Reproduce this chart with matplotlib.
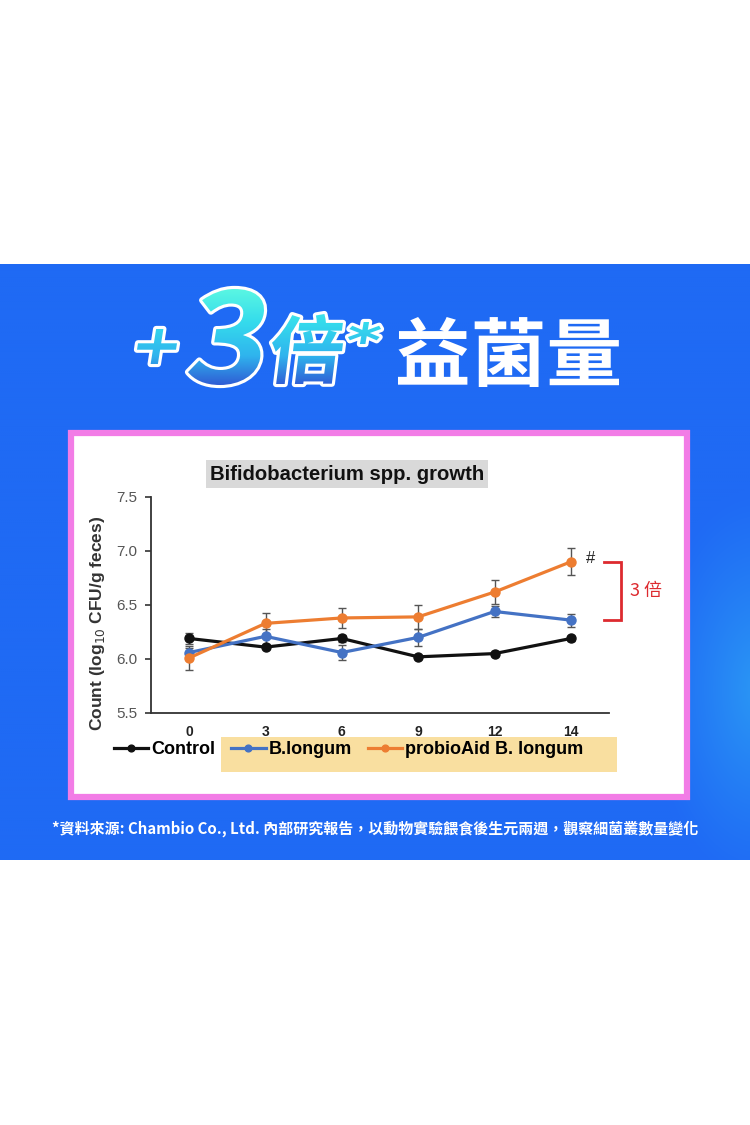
import numpy as np
import matplotlib
matplotlib.use('Agg')
import matplotlib.pyplot as plt
from matplotlib.patches import Rectangle, PathPatch
from matplotlib.path import Path
from matplotlib.textpath import TextPath
from matplotlib.font_manager import FontProperties
from matplotlib.transforms import Affine2D
from matplotlib.colors import LinearSegmentedColormap, to_rgb

# data
days = ['0', '3', '6', '9', '12', '14']
control = [6.19, 6.11, 6.19, 6.02, 6.05, 6.19]
control_err = [0.05, 0.02, 0.03, 0.01, 0.02, 0.02]
blongum = [6.06, 6.21, 6.06, 6.20, 6.44, 6.36]
blongum_err = [0.04, 0.07, 0.07, 0.075, 0.055, 0.06]
probio = [6.01, 6.33, 6.38, 6.39, 6.62, 6.90]
probio_err = [0.11, 0.10, 0.09, 0.11, 0.11, 0.125]
series_names = ['Control', 'B.longum', 'probioAid B. longum']
series_colors = ['#111111', '#4472c4', '#ed7d31']

W, H = 750, 1125
LATIN = 'Liberation Sans'
CJK = 'Noto Sans CJK TC'

fig = plt.figure(figsize=(W / 100, H / 100), dpi=100, facecolor='white')

# background layer in pixel coords
bg = fig.add_axes([0, 0, 1, 1], zorder=0)
bg.set_xlim(0, W)
bg.set_ylim(H, 0)
bg.axis('off')

# blue band with a soft glow on the right
band_top, band_bot = 264, 860
ny, nx = 300, 375
yy, xx = np.mgrid[0:ny, 0:nx]
px = xx / (nx - 1) * W
py = band_top + yy / (ny - 1) * (band_bot - band_top)
base = np.array(to_rgb('#1f6af4'))
glow = np.array(to_rgb('#34bdf6'))
d = np.sqrt(((px - 760) / 110) ** 2 + ((py - 690) / 200) ** 2)
a = np.clip(1 - d, 0, 1) ** 1.2 * 0.55
img = base[None, None, :] * (1 - a[..., None]) + glow[None, None, :] * a[..., None]
bg.imshow(img, extent=(0, W, band_bot, band_top), aspect='auto', zorder=0,
          interpolation='bilinear')
bg.set_xlim(0, W)
bg.set_ylim(H, 0)

# white panel with pink border
bg.add_patch(Rectangle((71, 433), 616, 364, facecolor='white', edgecolor='#f27ce6',
                       linewidth=4.5, zorder=1))
# tan legend band
bg.add_patch(Rectangle((221, 737), 396, 35, facecolor='#f9dfa0', edgecolor='none', zorder=2))


def fit_path(txt, box, prop, skew=0):
    p = TextPath((0, 0), txt, size=100, prop=prop)
    p = p.transformed(Affine2D().skew_deg(skew, 0))
    ext = p.get_extents()
    x0, y0, x1, y1 = box
    t = (Affine2D().translate(-ext.x0, -ext.y1)
         .scale((x1 - x0) / ext.width, -(y1 - y0) / ext.height)
         .translate(x0, y0))
    return p.transformed(t)


bold_cjk = FontProperties(family=CJK, weight='bold')
bold_dv = FontProperties(family='DejaVu Sans', weight='bold')
pieces = [fit_path('+', (137, 329, 177, 364), bold_dv, 8),
          fit_path('3', (188, 289, 264, 385), bold_cjk, 8),
          fit_path('倍', (272, 314, 343, 384), bold_cjk, 7),
          fit_path('*', (348, 322, 381, 344), bold_dv, 7)]
grad_path = Path.make_compound_path(*pieces)
bg.add_patch(PathPatch(grad_path, facecolor='white', edgecolor='white', linewidth=4.5,
                       zorder=3, joinstyle='round'))
clip = PathPatch(grad_path, facecolor='none', edgecolor='none', transform=bg.transData)
bg.add_patch(clip)
cmap = LinearSegmentedColormap.from_list('title', ['#5cf8e2', '#35dcec', '#2fb4ee', '#2f4fd0'])
grad = np.linspace(0, 1, 200)[:, None] * np.ones((1, 10))
gi = bg.imshow(grad, cmap=cmap, extent=(120, 390, 390, 287), aspect='auto', zorder=4)
gi.set_clip_path(clip)

bg.add_patch(PathPatch(fit_path('益菌量', (398, 317, 619, 387), bold_cjk),
                       facecolor='white', edgecolor='none', zorder=3))
bg.set_xlim(0, W)
bg.set_ylim(H, 0)

# chart title
bg.text(347, 474, 'Bifidobacterium spp. growth', ha='center', va='center',
        fontsize=14.6, fontweight='bold', family=LATIN, color='#111111', zorder=3,
        bbox=dict(boxstyle='square,pad=0.2', facecolor='#d9d9d9', edgecolor='none'))

# footnote
bg.text(375, 829, '*資料來源: Chambio Co., Ltd. 內部研究報告，以動物實驗餵食後生元兩週，觀察細菌叢數量變化',
        ha='center', va='center', fontsize=10.8, fontweight='bold', color='white',
        family=[CJK, 'DejaVu Sans'], zorder=3)

# the chart itself
ax = fig.add_axes([151 / W, 1 - 713 / H, (609 - 151) / W, (713 - 497) / H], zorder=2)
ax.patch.set_alpha(0)
x = np.arange(len(days))
for vals, errs, name, col in zip([control, blongum, probio],
                                 [control_err, blongum_err, probio_err],
                                 series_names, series_colors):
    ax.errorbar(x, vals, yerr=errs, fmt='none', ecolor='#555555', elinewidth=1.0,
                capsize=3, capthick=1.0, zorder=3)
    ax.plot(x, vals, color=col, lw=2.3, marker='o', ms=6.5, label=name, zorder=4)

ax.set_xlim(-0.5, 5.5)
ax.set_ylim(5.5, 7.5)
ax.set_xticks(x)
ax.set_xticklabels(days, fontsize=10, fontweight='bold', family=LATIN, color='#222222')
ax.set_yticks([5.5, 6.0, 6.5, 7.0, 7.5])
ax.set_yticklabels(['5.5', '6.0', '6.5', '7.0', '7.5'], fontsize=11, family=LATIN,
                   color='#555555')
ax.tick_params(axis='x', length=0, pad=9)
ax.tick_params(axis='y', length=4, width=1.2, color='#333333', pad=6)
for s in ['top', 'right']:
    ax.spines[s].set_visible(False)
for s in ['left', 'bottom']:
    ax.spines[s].set_linewidth(1.3)
    ax.spines[s].set_color('#333333')
ax.set_ylabel('Count (log$_{10}$ CFU/g feces)', fontsize=12.5, fontweight='bold',
              family=LATIN, color='#333333')
ax.yaxis.set_label_coords(-0.095, 0.417)

# "#" mark and 3x bracket between the day-14 values
ax.text(5.2, probio[-1] + 0.03, '#', fontsize=12, family=LATIN, color='#222222',
        ha='left', va='center')
ax.plot([5.44, 5.66, 5.66, 5.44], [probio[-1], probio[-1], blongum[-1], blongum[-1]],
        color='#dd2a2f', lw=2.0, clip_on=False, solid_joinstyle='miter')
ax.text(5.77, (probio[-1] + blongum[-1]) / 2, '3 倍', fontsize=13, color='#dd2a2f',
        family=[CJK, 'DejaVu Sans'], ha='left', va='center')

ax.legend(loc='center left', bbox_to_anchor=(114, 750), bbox_transform=bg.transData,
          ncol=3, frameon=False, borderpad=0, borderaxespad=0, handlelength=1.9,
          handletextpad=0.15, columnspacing=0.9, markerscale=0.75,
          prop=FontProperties(family=LATIN, weight='bold', size=13))

fig.savefig('out.png', dpi=100, facecolor='white')
